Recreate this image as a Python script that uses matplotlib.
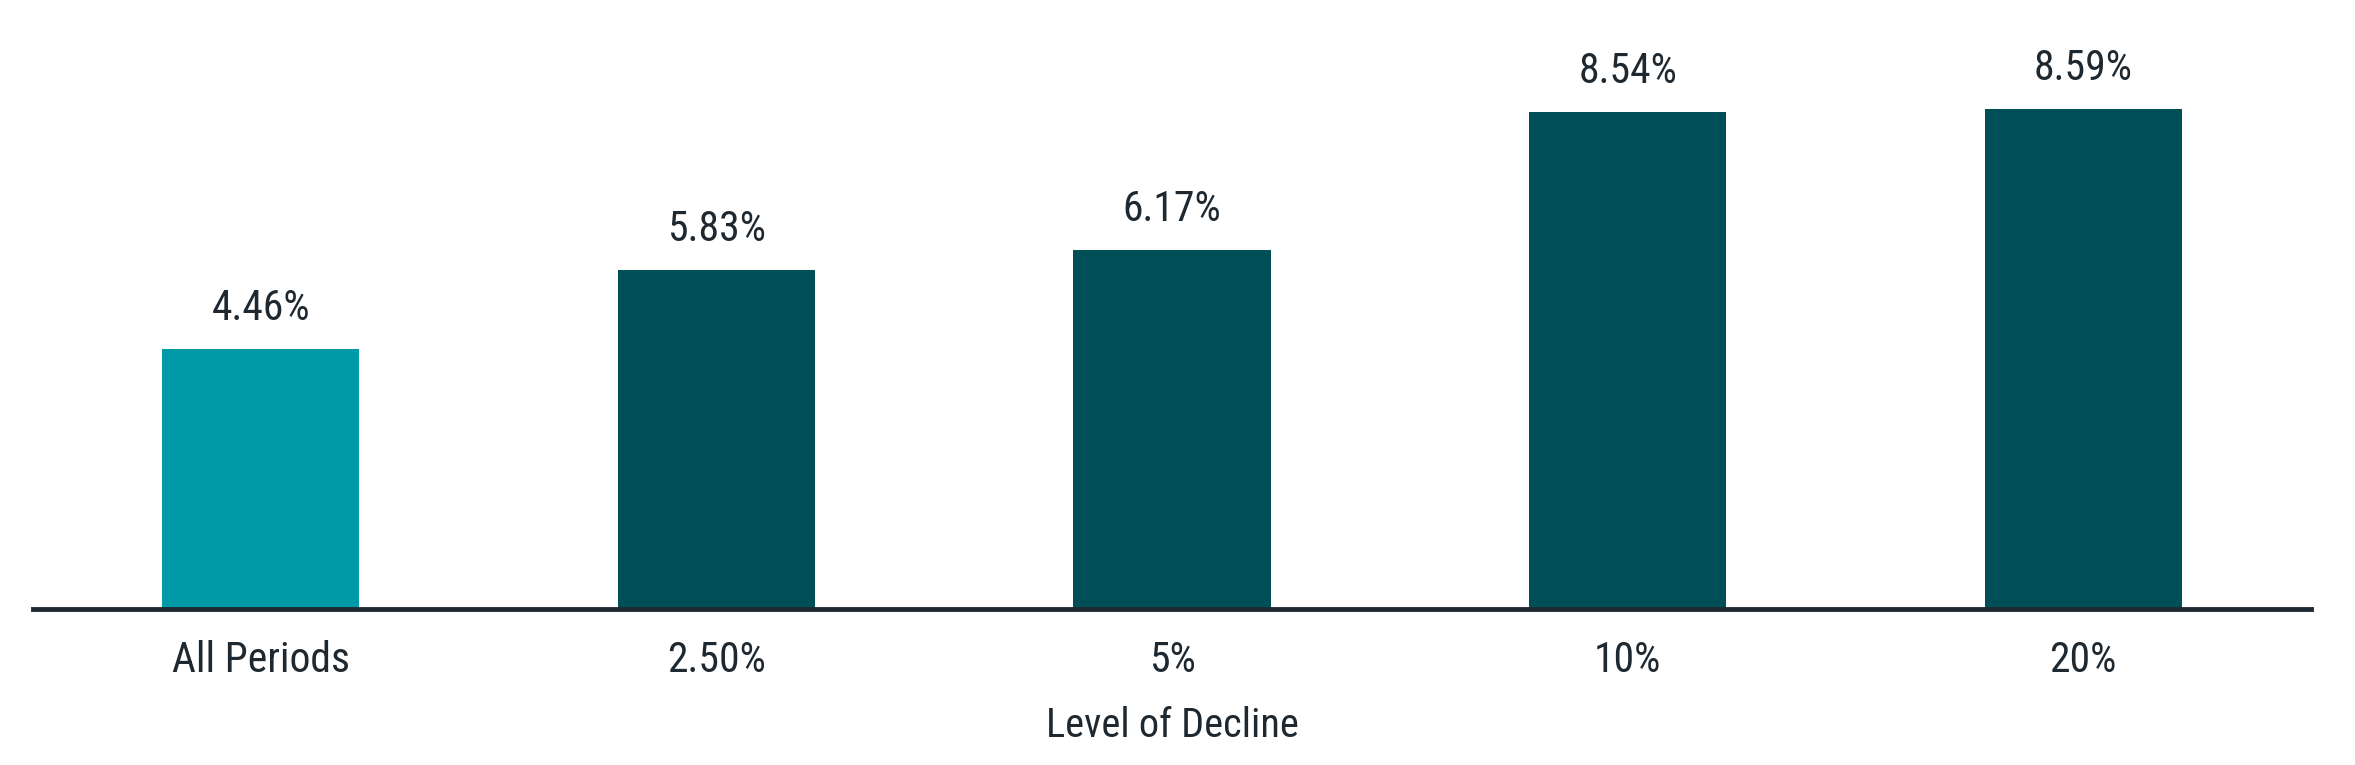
import matplotlib
matplotlib.use("Agg")
import matplotlib.pyplot as plt
import warnings
warnings.filterwarnings("ignore")

categories = ["All Periods", "2.50%", "5%", "10%", "20%"]
values = [4.46, 5.83, 6.17, 8.54, 8.59]
labels = ["4.46%", "5.83%", "6.17%", "8.54%", "8.59%"]
colors = ["#0099A8", "#004E56", "#004E56", "#004E56", "#004E56"]
xlabel = "Level of Decline"

TEXT = "#1E2830"
FAM = ["Roboto Condensed", "Roboto", "DejaVu Sans"]
plt.rcParams["font.family"] = FAM

W, H = 2355, 765
fig = plt.figure(figsize=(W / 100, H / 100), dpi=100)
ax = fig.add_axes([33 / W, (H - 609) / H, (2311 - 33) / W, 609 / H])

x = list(range(len(categories)))
bars = ax.bar(x, values, width=0.433, color=colors, zorder=2)
for xi, v, lab in zip(x, values, labels):
    ax.annotate(lab, (xi, v), xytext=(0, 21), textcoords="offset points",
                ha="center", va="baseline", fontsize=30, color=TEXT)

ax.set_xlim(-0.5, 4.5)
ax.set_ylim(0, 609 / 58.2)
ax.set_xticks(x)
ax.set_xticklabels(categories, fontsize=30, color=TEXT)
ax.tick_params(axis="x", length=0, pad=22)
ax.set_yticks([])
for s in ["top", "right", "left"]:
    ax.spines[s].set_visible(False)
ax.spines["bottom"].set_color("#1F2A33")
ax.spines["bottom"].set_linewidth(3.5)
ax.spines["bottom"].set_zorder(3)
ax.set_xlabel(xlabel, fontsize=29, color=TEXT, labelpad=18)

fig.savefig("out.png", dpi=100, facecolor="white")
